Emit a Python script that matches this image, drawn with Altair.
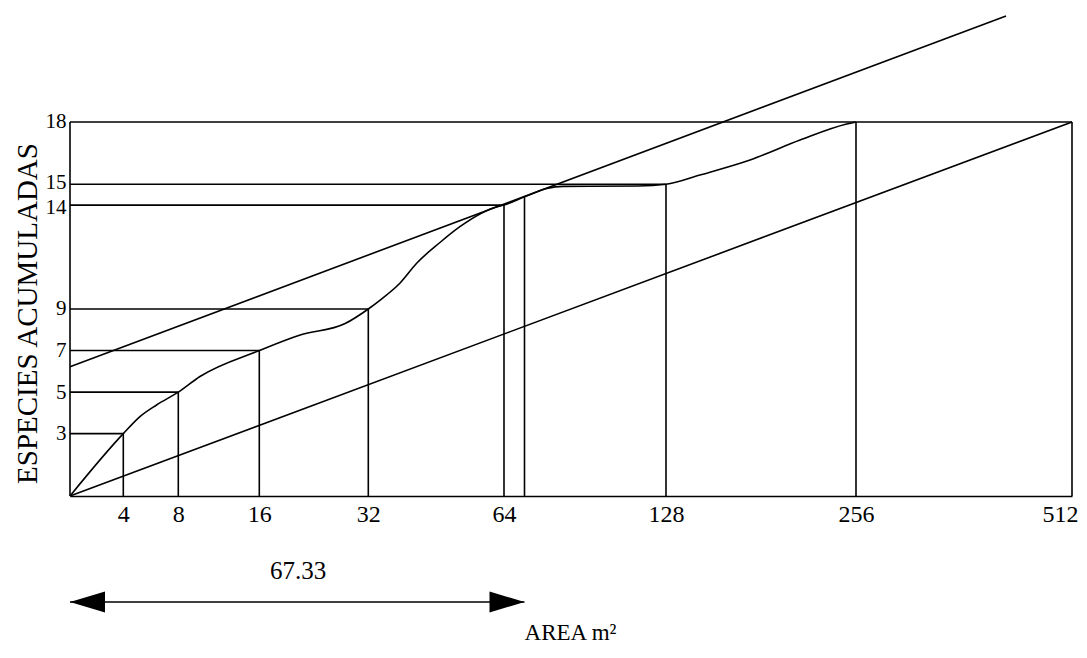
import altair as alt
import pandas as pd

# ---------------- data ----------------
area_ticks = [4, 8, 16, 32, 64, 128, 256, 512]
species_ticks = [3, 5, 7, 9, 14, 15, 18]

# cumulative species curve (area m2, accumulated species)
curve_area = [0, 4, 5.21, 6.42, 8, 10.1, 16, 22, 28.6, 32, 34.8, 39.5, 43.4,
              48.9, 53.6, 62.3, 64, 67.33, 76.9, 83.8, 116, 128, 150.9,
              184.6, 218.3, 249.7, 256]
curve_species = [0, 3, 3.82, 4.38, 5, 5.74, 7, 7.75, 8.3, 9, 9.43, 10.25, 11.2,
                 12.2, 12.96, 13.92, 14, 14.4, 14.8, 14.9, 14.92, 15, 15.45,
                 16.17, 17.13, 17.9, 18]

# sampling steps (vertical guides)
step_area = [0, 4, 8, 16, 32, 64, 67.33, 128, 256, 512]
step_species = [18, 3, 5, 7, 9, 14, 14.4, 15, 18, 18]

# horizontal guides
hline_species = [3, 5, 7, 9, 14, 15, 18]
hline_end_area = [4, 8, 16, 32, 64, 128, 512]

# diagonal (0,0)-(512,18) and parallel tangent line
diag_area = [0, 512]
diag_species = [0, 18]
tangent_area = [0, 433.8]
tangent_species = [6.22, 23.1]

min_area = 67.33

# hand-drawn axis: value breakpoints and their positions along the axis
x_break_values = [0, 4, 8, 16, 32, 64, 67.33, 128, 256, 512]
x_break_range = [0, 53.3, 108.3, 189.3, 298.3, 434, 454.5, 596, 786, 1002]

FONT = "Liberation Serif"
INK = "#000000"
LW = 1.6

curve_df = pd.DataFrame({"area": curve_area, "species": curve_species})
step_df = pd.DataFrame({"area": step_area, "species": step_species, "zero": 0})
hline_df = pd.DataFrame({"species": hline_species, "end": hline_end_area, "start": 0})
lines_df = pd.DataFrame({
    "area": diag_area + tangent_area,
    "species": diag_species + tangent_species,
    "serie": ["diagonal", "diagonal", "tangente", "tangente"],
})
arrow_df = pd.DataFrame({"start": [0], "end": [min_area], "label": [f"{min_area:.2f}"]})

xscale = alt.Scale(type="linear", domain=x_break_values, range=x_break_range,
                   nice=False, zero=False)
yscale = alt.Scale(domain=[0, 23.1], nice=False, zero=True)

x_axis = alt.Axis(values=area_ticks, ticks=False, grid=False, domain=True,
                  domainColor=INK, domainWidth=LW, labelFontSize=24,
                  labelColor=INK, labelPadding=6, labelFlush=True,
                  labelFlushOffset=6, labelOverlap=False,
                  title="AREA m²", titleFontSize=23,
                  titleFontWeight="normal", titleColor=INK, titleX=500,
                  titleY=136, titleAlign="center", titleBaseline="middle")
y_axis = alt.Axis(values=species_ticks, ticks=False, grid=False, domain=False,
                  labelFontSize=21, labelColor=INK, labelPadding=4,
                  labelBaseline="middle", labelOverlap=False,
                  labelOffset={"condition": [
                      {"test": "datum.value == 14", "value": 2},
                      {"test": "datum.value == 15", "value": -1.5},
                  ], "value": 0},
                  title="ESPECIES ACUMULADAS", titleFontSize=29,
                  titleFontWeight="normal", titleColor=INK, titleAngle=270,
                  titleX=-43, titleY=297, titleAlign="center",
                  titleBaseline="middle")

base = alt.Chart(curve_df)

curve = base.mark_line(color=INK, strokeWidth=LW, interpolate="monotone").encode(
    x=alt.X("area:Q", scale=xscale, axis=x_axis),
    y=alt.Y("species:Q", scale=yscale, axis=y_axis),
)

verticals = alt.Chart(step_df).mark_rule(color=INK, strokeWidth=LW).encode(
    x=alt.X("area:Q", scale=xscale),
    y=alt.Y("zero:Q", scale=yscale),
    y2="species:Q",
)

horizontals = alt.Chart(hline_df).mark_rule(color=INK, strokeWidth=LW).encode(
    x=alt.X("start:Q", scale=xscale),
    x2="end:Q",
    y=alt.Y("species:Q", scale=yscale),
)

straight = alt.Chart(lines_df).mark_line(color=INK, strokeWidth=LW, clip=False).encode(
    x=alt.X("area:Q", scale=xscale),
    y=alt.Y("species:Q", scale=yscale),
    detail="serie:N",
)

arrow_line = alt.Chart(arrow_df).mark_rule(color=INK, strokeWidth=LW).encode(
    x=alt.X("start:Q", scale=xscale),
    x2="end:Q",
    y=alt.value(586),
)
left_head = alt.Chart(arrow_df).mark_point(
    shape="M0,0 L2,-0.6 L2,0.6 Z", size=1225, filled=True, color=INK, opacity=1
).encode(x=alt.X("start:Q", scale=xscale), y=alt.value(586))
right_head = alt.Chart(arrow_df).mark_point(
    shape="M0,0 L-2,-0.6 L-2,0.6 Z", size=1225, filled=True, color=INK, opacity=1
).encode(x=alt.X("end:Q", scale=xscale), y=alt.value(586))
arrow_label = alt.Chart(arrow_df).mark_text(
    fontSize=25, color=INK, align="center", baseline="middle", font=FONT
).encode(x=alt.value(228), y=alt.value(555), text="label:N")

chart = alt.layer(
    curve, verticals, horizontals, straight, arrow_line, left_head, right_head,
    arrow_label
).properties(
    width=1002, height=480,
    padding={"left": 62, "top": 8, "right": 7, "bottom": 150},
    autosize=alt.AutoSizeParams(type="none"),
).configure(font=FONT).configure_view(strokeWidth=0)

chart.save("out.html", embed_options={"renderer": "svg", "actions": False})
